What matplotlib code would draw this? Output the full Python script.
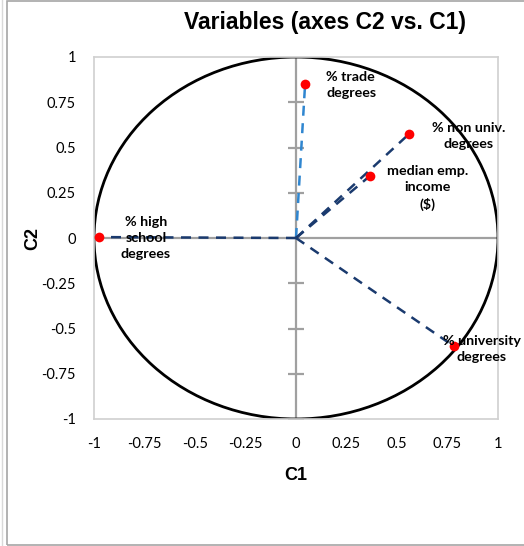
import numpy as np
import matplotlib.pyplot as plt
from matplotlib.patches import Circle, Rectangle

# correlation of each variable with components C1 and C2
variables = ["% trade\ndegrees", "% non univ.\ndegrees", "median emp.\nincome\n($)",
             "% high\nschool\ndegrees", "% university\ndegrees"]
c1 = [0.045, 0.56, 0.366, -0.975, 0.78]
c2 = [0.85, 0.575, 0.343, 0.005, -0.597]
ticks = [-1, -0.75, -0.5, -0.25, 0, 0.25, 0.5, 0.75, 1]
tick_labels = ["-1", "-0.75", "-0.5", "-0.25", "0", "0.25", "0.5", "0.75", "1"]

# where each label sits and how it is aligned
label_pos = [(0.149, 0.845, "left"), (0.856, 0.563, "center"), (0.653, 0.276, "center"),
             (-0.743, 0.0, "center"), (0.92, -0.613, "center")]
line_colors = ["#2f86d0", "#1a3a6e", "#1a3a6e", "#1a3a6e", "#1a3a6e"]

fig = plt.figure(figsize=(5.24, 5.46), dpi=100)
ax = fig.add_axes([94 / 524, 1 - 419 / 546, 404 / 524, 362 / 546])

# outer chart frame
fig.add_artist(Rectangle((7 / 524, 1 / 546), 1.2, 1 - 2 / 546, transform=fig.transFigure,
                         fill=False, edgecolor="#a6a6a6", linewidth=1.2))
fig.add_artist(plt.Line2D([2 / 524, 2 / 524], [0, 1], transform=fig.transFigure,
                          color="#d9d9d9", linewidth=1))

ax.set_xlim(-1, 1)
ax.set_ylim(-1, 1)
for s in ax.spines.values():
    s.set_color("#d0d0d0")
    s.set_linewidth(1.2)

# zero axes, with ticks on the vertical one
ax.axhline(0, color="#a0a0a0", linewidth=1.6, zorder=1)
ax.axvline(0, color="#a0a0a0", linewidth=1.6, zorder=1)
minor = [t for t in ticks if t != 0]
ax.plot([0] * len(minor), minor, linestyle="none", marker="_", markersize=11,
        markeredgewidth=1.6, color="#a0a0a0", zorder=1)

ax.add_patch(Circle((0, 0), 1, fill=False, edgecolor="black", linewidth=2, zorder=2))

for x, y, col in zip(c1, c2, line_colors):
    ax.plot([0, x], [0, y], color=col, linewidth=1.8, dashes=(4, 3), zorder=3)
ax.plot(c1, c2, linestyle="none", marker="o", markersize=7, color="#ff0000",
        markeredgewidth=0, zorder=4)

for name, (lx, ly, ha) in zip(variables, label_pos):
    ax.text(lx, ly, name, ha=ha, va="center", fontsize=10.3, fontweight="bold",
            family=["Lato", "DejaVu Sans"], linespacing=1.45, zorder=5, clip_on=False)

ax.set_xticks(ticks)
ax.set_yticks(ticks)
ax.set_xticklabels(tick_labels, family="Lato", fontsize=10.5)
ax.set_yticklabels(tick_labels, family="Lato", fontsize=10.5)
ax.tick_params(length=0, pad=13, colors="black")

fig.text(296 / 524, 1 - 475 / 546, "C1", ha="center", va="center", fontsize=13,
         fontweight="bold", family="Liberation Sans")
fig.text(33 / 524, 1 - 238 / 546, "C2", ha="center", va="center", rotation=90,
         fontsize=13, fontweight="bold", family="Liberation Sans")
fig.text(325 / 524, 1 - 22 / 546, "Variables (axes C2 vs. C1)", ha="center", va="center",
         fontsize=16.5, fontweight="bold", family="Liberation Sans")

fig.savefig("out.png", dpi=100)
